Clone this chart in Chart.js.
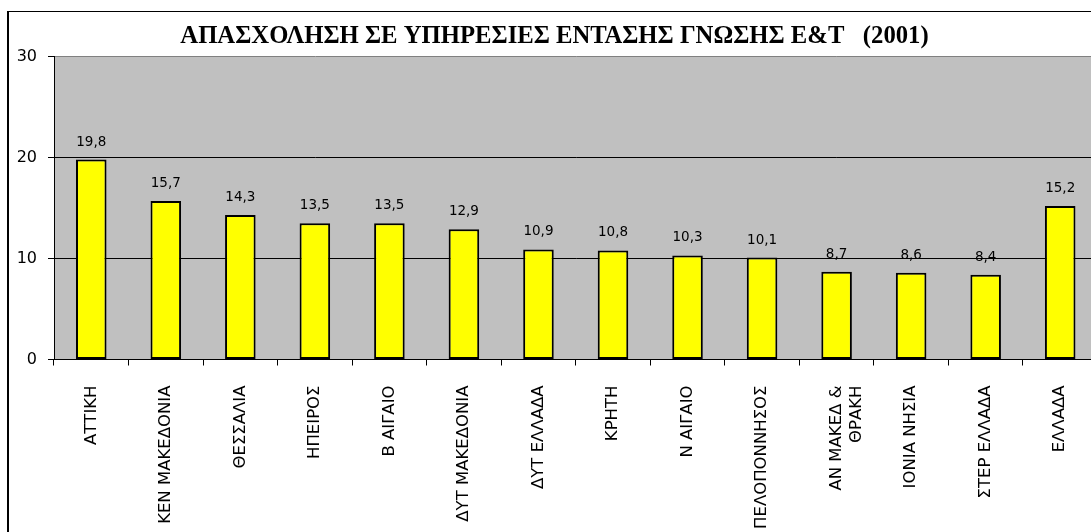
<!DOCTYPE html>
<html>
<head>
<meta charset="utf-8">
<script src="https://cdn.jsdelivr.net/npm/chart.js@4.4.0/dist/chart.umd.min.js"></script>
<style>
  html, body { margin: 0; padding: 0; background: #fff; overflow: hidden; width: 1091px; height: 532px; }
  #box { position: absolute; left: 7px; top: 11px; border-left: 2px solid #000; border-top: 1px solid #000; background: #fff; }
  canvas { display: block; }
</style>
</head>
<body>
<div id="box"><canvas id="chart" width="1091" height="560"></canvas></div>
<script>
const regions = ['ΑΤΤΙΚΗ', 'ΚΕΝ ΜΑΚΕΔΟΝΙΑ', 'ΘΕΣΣΑΛΙΑ', 'ΗΠΕΙΡΟΣ', 'Β ΑΙΓΑΙΟ', 'ΔΥΤ ΜΑΚΕΔΟΝΙΑ', 'ΔΥΤ ΕΛΛΑΔΑ', 'ΚΡΗΤΗ', 'Ν ΑΙΓΑΙΟ', 'ΠΕΛΟΠΟΝΝΗΣΟΣ', ['ΑΝ ΜΑΚΕΔ &', 'ΘΡΑΚΗ'], 'ΙΟΝΙΑ ΝΗΣΙΑ', 'ΣΤΕΡ ΕΛΛΑΔΑ', 'ΕΛΛΑΔΑ']
const employment = [19.8, 15.7, 14.3, 13.5, 13.5, 12.9, 10.9, 10.8, 10.3, 10.1, 8.7, 8.6, 8.4, 15.2]
const yTicks = [0, 10, 20, 30]
const chartTitle = 'ΑΠΑΣΧΟΛΗΣΗ ΣΕ ΥΠΗΡΕΣΙΕΣ ΕΝΤΑΣΗΣ ΓΝΩΣΗΣ Ε&Τ   (2001)'

const labelFont = 'DejaVu Sans'

// grey plot area behind the grid
const plotBackground = {
  id: 'plotBackground',
  beforeDraw(chart) {
    const { ctx, chartArea } = chart
    ctx.save()
    ctx.fillStyle = '#C0C0C0'
    ctx.fillRect(chartArea.left, chartArea.top, chartArea.right - chartArea.left, chartArea.bottom - chartArea.top)
    ctx.restore()
  },
}

// numbers above the bars, greek decimal comma
const valueLabels = {
  id: 'valueLabels',
  afterDatasetsDraw(chart) {
    const ctx = chart.ctx
    const meta = chart.getDatasetMeta(0)
    ctx.save()
    ctx.font = '13.5px "' + labelFont + '"'
    ctx.fillStyle = '#000'
    ctx.textAlign = 'center'
    ctx.textBaseline = 'alphabetic'
    meta.data.forEach((bar, i) => {
      const text = employment[i].toFixed(1).replace('.', ',')
      ctx.fillText(text, bar.x, bar.y - 14)
    })
    ctx.restore()
  },
}

const config = {
  type: 'bar',
  data: {
    labels: regions,
    datasets: [
      {
        data: employment,
        backgroundColor: '#FFFF00',
        borderColor: '#000',
        borderWidth: 2,
        borderSkipped: false,
        barPercentage: 0.41,
        categoryPercentage: 1,
      },
    ],
  },
  options: {
    responsive: false,
    animation: false,
    events: [],
    layout: { padding: 0 },
    scales: {
      x: {
        type: 'category',
        offset: true,
        afterFit(scale) {
          scale.height = 212.5
        },
        ticks: {
          autoSkip: false,
          minRotation: 90,
          maxRotation: 90,
          padding: 20,
          color: '#000',
          font: { family: labelFont, size: 16.5 },
        },
        grid: {
          offset: true,
          drawOnChartArea: false,
          drawTicks: true,
          tickLength: 6,
          color: '#000',
        },
        border: { color: '#000', width: 1 },
      },
      y: {
        min: 0,
        max: 30,
        afterBuildTicks(scale) {
          scale.ticks = yTicks.map((v) => ({ value: v }))
        },
        afterFit(scale) {
          scale.width = 45
        },
        ticks: {
          padding: 11,
          color: '#000',
          font: { family: labelFont, size: 16 },
        },
        grid: {
          color: (c) => (c.tick && c.tick.value === 30 ? '#808080' : '#000'),
          tickColor: '#000',
          tickLength: 6,
          lineWidth: 1,
        },
        border: { color: '#000', width: 1 },
      },
    },
    plugins: {
      legend: { display: false },
      tooltip: { enabled: false },
      title: {
        display: true,
        text: chartTitle,
        color: '#000',
        font: { family: 'Liberation Serif', size: 24.7, weight: 'bold' },
        padding: { top: 10, bottom: 4.9 },
      },
    },
  },
  plugins: [plotBackground, valueLabels],
}

const ctx = document.getElementById('chart').getContext('2d')
new Chart(ctx, config)
</script>
</body>
</html>
